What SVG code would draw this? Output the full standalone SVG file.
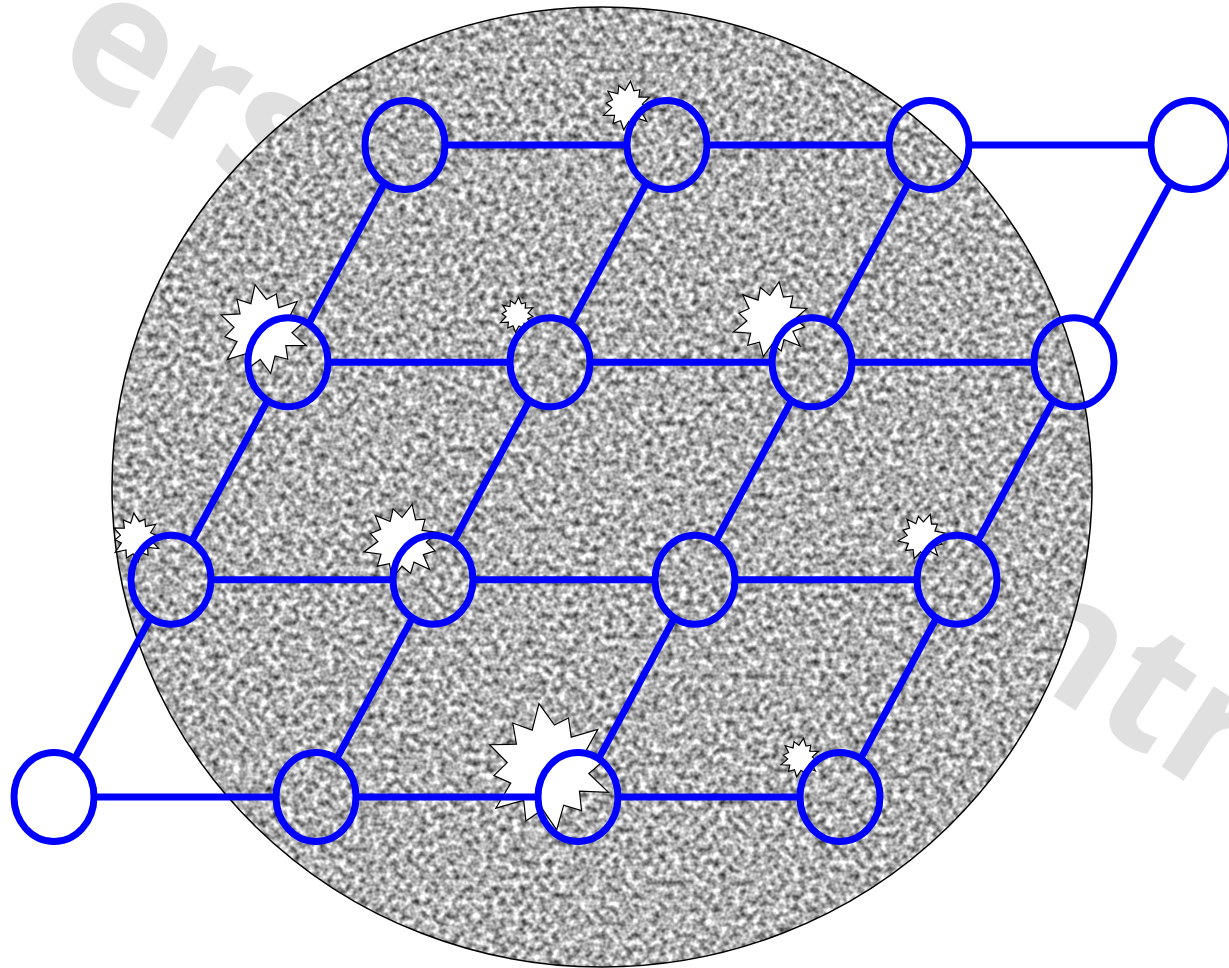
<svg xmlns="http://www.w3.org/2000/svg" xmlns:xlink="http://www.w3.org/1999/xlink" width="1229" height="968" viewBox="0 0 1229 968">
<style>
.wm{font-family:"Open Sans","Liberation Sans",sans-serif;font-weight:bold;font-size:175px;fill:#e0e0e0}
.node{fill:none;stroke:#0000ff;stroke-width:7}
.edge{stroke:#0000ff;stroke-width:7;stroke-linecap:butt;fill:none}
.burst{fill:#ffffff;stroke:#000000;stroke-width:1.2;stroke-linejoin:miter}
</style>
<defs>
<filter id="noise" color-interpolation-filters="sRGB" x="0" y="0" width="1" height="1">
<feTurbulence type="fractalNoise" baseFrequency="0.15" numOctaves="2" seed="7" result="t"/>
<feColorMatrix in="t" type="matrix" values="1.3 0 0 0 0.04  1.3 0 0 0 0.04  1.3 0 0 0 0.04  0 0 0 0 1" result="g"/>
<feGaussianBlur in="g" stdDeviation="0.7" result="b"/>
<feComposite in="b" in2="SourceGraphic" operator="in"/>
</filter>
<path id="star" class="burst" vector-effect="non-scaling-stroke" d="M0,-100 L19,-64 L42,-72 L42,-42 L84,-48 L60,-16 L88,0 L61,17 L87,50 L43,42 L42,72 L16,60 L0,96 L-17,62 L-45,76 L-44,44 L-88,50 L-60,15 L-84,0 L-61,-17 L-84,-48 L-43,-43 L-44,-76 L-16,-61 Z"/>
</defs>
<rect width="1229" height="968" fill="#ffffff"/>
<g id="watermark">
<text class="wm" x="50" y="66" transform="rotate(31 50 66)">ers</text>
<text class="wm" x="990" y="655" transform="rotate(33 990 655)">ntr</text>
</g>
<g id="disc">
<ellipse cx="602" cy="487" rx="490" ry="480" fill="#a9a9a9" filter="url(#noise)"/>
<ellipse cx="602" cy="487" rx="490" ry="480" fill="none" stroke="#000000" stroke-width="1.5"/>
</g>
<g id="bursts">
<use xlink:href="#star" transform="translate(627,106) scale(0.25) rotate(8)"/>
<use xlink:href="#star" transform="translate(263,330) scale(0.46) rotate(-10)"/>
<use xlink:href="#star" transform="translate(517,315) scale(0.18) rotate(5)"/>
<use xlink:href="#star" transform="translate(771,320) scale(0.39) rotate(12)"/>
<use xlink:href="#star" transform="translate(136,538) scale(0.25) rotate(-5)"/>
<use xlink:href="#star" transform="translate(402,542) scale(0.39) rotate(15)"/>
<use xlink:href="#star" transform="translate(922,537) scale(0.24) rotate(20)"/>
<use xlink:href="#star" transform="translate(548,768) scale(0.65) rotate(-8)"/>
<use xlink:href="#star" transform="translate(800,758) scale(0.2) rotate(10)"/>
</g>
<g id="connectors">
<line class="edge" x1="445" y1="145" x2="627" y2="145"/>
<line class="edge" x1="707" y1="145" x2="889" y2="145"/>
<line class="edge" x1="969" y1="145" x2="1151" y2="145"/>
<line class="edge" x1="328" y1="362.3" x2="510" y2="362.3"/>
<line class="edge" x1="590" y1="362.3" x2="772" y2="362.3"/>
<line class="edge" x1="852" y1="362.3" x2="1034" y2="362.3"/>
<line class="edge" x1="211" y1="579.7" x2="393" y2="579.7"/>
<line class="edge" x1="473" y1="579.7" x2="655" y2="579.7"/>
<line class="edge" x1="735" y1="579.7" x2="917" y2="579.7"/>
<line class="edge" x1="94" y1="797" x2="276" y2="797"/>
<line class="edge" x1="356" y1="797" x2="538" y2="797"/>
<line class="edge" x1="618" y1="797" x2="800" y2="797"/>
<line class="edge" x1="308.55" y1="324.12" x2="384.45" y2="183.15"/>
<line class="edge" x1="570.55" y1="324.12" x2="646.45" y2="183.15"/>
<line class="edge" x1="832.55" y1="324.12" x2="908.45" y2="183.15"/>
<line class="edge" x1="1094.55" y1="324.12" x2="1170.45" y2="183.15"/>
<line class="edge" x1="191.55" y1="541.52" x2="267.45" y2="400.55"/>
<line class="edge" x1="453.55" y1="541.52" x2="529.45" y2="400.55"/>
<line class="edge" x1="715.55" y1="541.52" x2="791.45" y2="400.55"/>
<line class="edge" x1="977.55" y1="541.52" x2="1053.45" y2="400.55"/>
<line class="edge" x1="74.55" y1="758.82" x2="150.45" y2="617.85"/>
<line class="edge" x1="336.55" y1="758.82" x2="412.45" y2="617.85"/>
<line class="edge" x1="598.55" y1="758.82" x2="674.45" y2="617.85"/>
<line class="edge" x1="860.55" y1="758.82" x2="936.45" y2="617.85"/>
</g>
<g id="n11"><ellipse class="node" cx="405" cy="145" rx="40" ry="44.5"/></g>
<g id="n12"><ellipse class="node" cx="667" cy="145" rx="40" ry="44.5"/></g>
<g id="n13"><ellipse class="node" cx="929" cy="145" rx="40" ry="44.5"/></g>
<g id="n14"><ellipse class="node" cx="1191" cy="145" rx="40" ry="44.5"/></g>
<g id="n21"><ellipse class="node" cx="288" cy="362.3" rx="40" ry="44.5"/></g>
<g id="n22"><ellipse class="node" cx="550" cy="362.3" rx="40" ry="44.5"/></g>
<g id="n23"><ellipse class="node" cx="812" cy="362.3" rx="40" ry="44.5"/></g>
<g id="n24"><ellipse class="node" cx="1074" cy="362.3" rx="40" ry="44.5"/></g>
<g id="n31"><ellipse class="node" cx="171" cy="579.7" rx="40" ry="44.5"/></g>
<g id="n32"><ellipse class="node" cx="433" cy="579.7" rx="40" ry="44.5"/></g>
<g id="n33"><ellipse class="node" cx="695" cy="579.7" rx="40" ry="44.5"/></g>
<g id="n34"><ellipse class="node" cx="957" cy="579.7" rx="40" ry="44.5"/></g>
<g id="n41"><ellipse class="node" cx="54" cy="797" rx="40" ry="44.5"/></g>
<g id="n42"><ellipse class="node" cx="316" cy="797" rx="40" ry="44.5"/></g>
<g id="n43"><ellipse class="node" cx="578" cy="797" rx="40" ry="44.5"/></g>
<g id="n44"><ellipse class="node" cx="840" cy="797" rx="40" ry="44.5"/></g>
</svg>
